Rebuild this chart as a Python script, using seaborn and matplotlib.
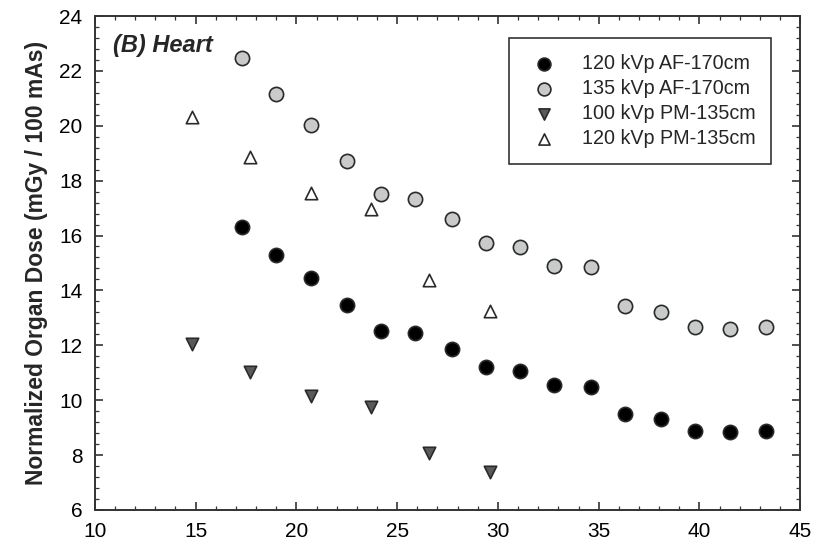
"""Normalized organ dose for the heart vs. patient size."""

import matplotlib.pyplot as plt
import seaborn as sns
import pandas as pd
import numpy as np
from matplotlib.ticker import MultipleLocator

sns.set_style("ticks")
plt.rcParams['font.family'] = ['Liberation Sans', 'DejaVu Sans']

# Data
x_af = [17.3, 19.0, 20.7, 22.5, 24.2, 25.9, 27.7, 29.4,
        31.1, 32.8, 34.6, 36.3, 38.1, 39.8, 41.5, 43.3]
dose_120_af = [16.30, 15.29, 14.44, 13.47, 12.53, 12.44, 11.85, 11.22,
               11.07, 10.55, 10.49, 9.48, 9.31, 8.88, 8.83, 8.89]
dose_135_af = [22.46, 21.15, 20.02, 18.73, 17.50, 17.34, 16.60, 15.74,
               15.57, 14.89, 14.84, 13.44, 13.22, 12.65, 12.59, 12.68]

x_pm = [14.8, 17.7, 20.7, 23.7, 26.6, 29.6]
dose_100_pm = [12.05, 11.02, 10.16, 9.76, 8.09, 7.39]
dose_120_pm = [20.33, 18.85, 17.56, 16.97, 14.38, 13.25]

labels = ['120 kVp AF-170cm', '135 kVp AF-170cm',
          '100 kVp PM-135cm', '120 kVp PM-135cm']

series = [
    (x_af, dose_120_af, labels[0], 'o', 'black', 105),
    (x_af, dose_135_af, labels[1], 'o', '#c8cbc9', 105),
    (x_pm, dose_100_pm, labels[2], 'v', '#5a5a5a', 80),
    (x_pm, dose_120_pm, labels[3], '^', 'white', 80),
]

fig, ax = plt.subplots(figsize=(8.25, 5.43), dpi=100)
fig.subplots_adjust(left=0.115, right=0.970, bottom=0.061, top=0.9705)

for xs, ys, lab, mk, col, sz in series:
    df = pd.DataFrame({'x': xs, 'y': ys})
    sns.scatterplot(data=df, x='x', y='y', ax=ax, marker=mk, color=col,
                    s=sz, edgecolor='#2a2a2a', linewidth=1.2, label=lab,
                    zorder=3)

ax.set_xlim(10, 45)
ax.set_ylim(6, 24)
ax.xaxis.set_major_locator(MultipleLocator(5))
ax.xaxis.set_minor_locator(MultipleLocator(1))
ax.yaxis.set_major_locator(MultipleLocator(2))
ax.yaxis.set_minor_locator(MultipleLocator(0.4))
ax.tick_params(which='both', direction='in', top=True, right=True,
               colors='#333333', labelcolor='black', labelsize=15, pad=9)
ax.tick_params(which='major', length=6, width=1.2)
ax.tick_params(which='minor', length=3, width=0.9)
for sp in ax.spines.values():
    sp.set_color('#333333')
    sp.set_linewidth(1.4)

ax.set_xlabel('')
ax.set_ylabel('Normalized Organ Dose (mGy / 100 mAs)', fontsize=16.5,
              fontweight='bold', labelpad=8)
ax.text(0.025, 0.963, '(B) Heart', transform=ax.transAxes, fontsize=17,
        fontweight='bold', fontstyle='italic', va='top', ha='left')

leg = ax.legend(loc='upper right', bbox_to_anchor=(0.959, 0.955),
                fontsize=14.2, frameon=True, fancybox=False, framealpha=1,
                edgecolor='#333333', labelspacing=0.3, handletextpad=0.9,
                borderpad=0.8, markerscale=0.9, borderaxespad=0)
leg.get_frame().set_linewidth(1.2)

plt.savefig('out.png', dpi=100)
